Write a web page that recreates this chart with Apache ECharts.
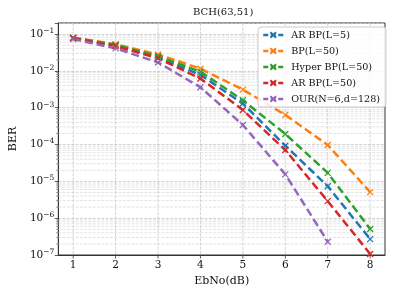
<!DOCTYPE html>
<html>
<head>
<meta charset="utf-8">
<script src="https://cdn.jsdelivr.net/npm/echarts@6/dist/echarts.min.js"></script>
<style>
html,body{margin:0;padding:0;background:#fff;}
#chart{width:395px;height:296px;}
</style>
</head>
<body>
<div id="chart"></div>
<script>
// ---- data ----
const ebno = [1, 2, 3, 4, 5, 6, 7, 8];
const seriesNames = ['AR BP(L=5)', 'BP(L=50)', 'Hyper BP(L=50)', 'AR BP(L=50)', 'OUR(N=6,d=128)'];
const arbp5   = [0.078, 0.050, 0.023, 0.0078, 0.0013, 9.3e-5, 7.4e-6, 2.7e-7];
const bp50    = [0.080, 0.053, 0.028, 0.0115, 0.0031, 6.4e-4, 9.7e-5, 5.1e-6];
const hyper50 = [0.079, 0.051, 0.025, 0.0095, 0.0016, 1.94e-4, 1.7e-5, 5.1e-7];
const arbp50  = [0.077, 0.047, 0.022, 0.0062, 8.7e-4, 7.1e-5, 2.9e-6, 1.07e-7];
const ours    = [0.073, 0.041, 0.017, 0.0036, 3.4e-4, 1.55e-5, 2.3e-7];
const xTicks = [1, 2, 3, 4, 5, 6, 7, 8];
const xTickLabels = ['1', '2', '3', '4', '5', '6', '7', '8'];
const yDecades = [-7, -6, -5, -4, -3, -2, -1];

const colors = ['#1f77b4', '#ff7f0e', '#2ca02c', '#d62728', '#9467bd'];
const allData = [arbp5, bp50, hyper50, arbp50, ours];

const X_MIN = 0.65, X_MAX = 8.35;
const Y_MIN = -7, Y_MAX = Math.log10(0.2);

// minor log positions
const minor = [];
yDecades.forEach(n => { for (let k = 2; k <= 9; k++) { const v = n + Math.log10(k); if (v < Y_MAX) minor.push([X_MIN, v]); } });

const FONT = 'DejaVu Serif';
const xSym = 'path://M0 0L10 10M10 0L0 10';

const series = allData.map((arr, i) => ({
  name: seriesNames[i],
  type: 'line',
  data: arr.map((v, j) => [ebno[j], Math.log10(v)]),
  symbol: xSym,
  symbolSize: 6,
  showSymbol: true,
  lineStyle: { color: colors[i], width: 2.5, type: [8, 4] },
  itemStyle: { color: colors[i], borderColor: colors[i], borderWidth: 1.3 },
  z: 3,
  animation: false
}));

// minor y grid lines + minor ticks
series.push({
  type: 'custom',
  data: minor,
  z: 1,
  silent: true,
  clip: false,
  renderItem: function (params, api) {
    const cs = params.coordSys;
    const y = api.coord([api.value(0), api.value(1)])[1];
    return {
      type: 'group',
      children: [
        { type: 'line', shape: { x1: cs.x, y1: y, x2: cs.x + cs.width, y2: y },
          style: { stroke: '#dcdcdc', lineWidth: 0.8, lineDash: [3, 1.3] } },
        { type: 'line', shape: { x1: cs.x - 2, y1: y, x2: cs.x, y2: y },
          style: { stroke: '#333', lineWidth: 0.6 } }
      ]
    };
  }
});

// x major grid lines, ticks and labels (at integer EbNo values)
series.push({
  type: 'custom',
  data: xTicks.map((v, i) => [v, Y_MIN, i]),
  z: 1,
  silent: true,
  clip: false,
  renderItem: function (params, api) {
    const cs = params.coordSys;
    const x = api.coord([api.value(0), api.value(1)])[0];
    const yb = cs.y + cs.height;
    return {
      type: 'group',
      children: [
        { type: 'line', shape: { x1: x, y1: cs.y, x2: x, y2: yb },
          style: { stroke: '#c8c8c8', lineWidth: 0.8, lineDash: [3, 1.3] } },
        { type: 'line', shape: { x1: x, y1: yb, x2: x, y2: yb + 3.5 },
          style: { stroke: '#333', lineWidth: 0.8 } },
        { type: 'text', style: { x: x, y: yb + 5, text: xTickLabels[api.value(2)], textAlign: 'center', textVerticalAlign: 'top',
            font: '10.5px "DejaVu Serif"', fill: '#111' } }
      ]
    };
  }
});

const chart = echarts.init(document.getElementById('chart'), null, { renderer: 'canvas' });
chart.setOption({
  animation: false,
  backgroundColor: '#fff',
  textStyle: { fontFamily: FONT },
  title: {
    text: 'BCH(63,51)', left: 193, top: 7, padding: 0,
    textStyle: { fontFamily: FONT, fontSize: 10, fontWeight: 'normal', color: '#111' }
  },
  grid: { left: 58, right: 10, top: 23, bottom: 41, show: true, borderColor: '#333', borderWidth: 1, containLabel: false },
  legend: {
    orient: 'vertical', left: 258, top: 27,
    itemWidth: 20, itemHeight: 7, itemGap: 6,
    padding: [3, 6, 3, 4],
    backgroundColor: 'rgba(255,255,255,0.85)', borderColor: '#cccccc', borderWidth: 1, borderRadius: 3,
    lineStyle: { width: 2.5, type: [5, 2.5] },
    textStyle: { fontFamily: FONT, fontSize: 9.6, color: '#111', padding: [0, 0, 0, 3] },
    data: seriesNames
  },
  xAxis: {
    type: 'value', min: X_MIN, max: X_MAX,
    name: 'EbNo(dB)', nameLocation: 'middle', nameGap: 21,
    nameTextStyle: { fontFamily: FONT, fontSize: 11, color: '#111' },
    axisLine: { show: true, lineStyle: { color: '#333', width: 1 } },
    axisTick: { show: false },
    axisLabel: { show: false },
    splitLine: { show: false }
  },
  yAxis: {
    type: 'value', min: Y_MIN, max: Y_MAX, interval: 1,
    name: 'BER', nameLocation: 'middle', nameGap: 38, nameRotate: 90,
    nameTextStyle: { fontFamily: FONT, fontSize: 11, color: '#111' },
    axisLine: { show: true, lineStyle: { color: '#333', width: 1 } },
    axisTick: { show: true, inside: false, length: 3.5, lineStyle: { color: '#333', width: 0.8 } },
    axisLabel: {
      margin: 4, color: '#111',
      formatter: v => (Math.abs(v - Math.round(v)) < 1e-6 ? '{b|10}{s|\u2212' + Math.abs(Math.round(v)) + '}' : ''),
      rich: {
        b: { fontFamily: FONT, fontSize: 10.5, color: '#111', lineHeight: 14 },
        s: { fontFamily: FONT, fontSize: 7.5, color: '#111', verticalAlign: 'top', lineHeight: 9 }
      }
    },
    splitLine: { show: true, lineStyle: { color: '#c8c8c8', width: 0.8, type: [3, 1.3] } }
  },
  series: series
});
</script>
</body>
</html>
